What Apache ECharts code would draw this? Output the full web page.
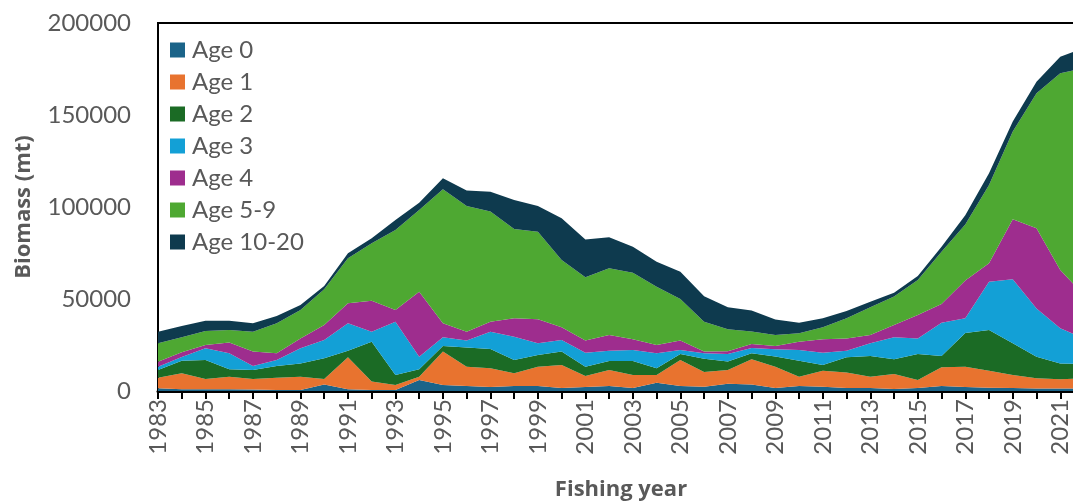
<!DOCTYPE html>
<html>
<head>
<meta charset="utf-8">
<script src="https://cdn.jsdelivr.net/npm/echarts@6/dist/echarts.min.js"></script>
<style>
  html, body { margin: 0; padding: 0; background: #fff; }
  #chart { width: 1073px; height: 501px; }
</style>
</head>
<body>
<div id="chart"></div>
<script>
// fishing years on the x axis
var years = [];
for (var y = 1983; y <= 2022; y++) years.push(String(y));

// biomass by age group (mt)
var age0 = [1500, 1000, 1000, 1000, 800, 500, 500, 3500, 1000, 500,
  500, 6000, 3300, 2700, 2200, 2700, 2700, 1600, 2200, 2700,
  1600, 4500, 2700, 2300, 4000, 3500, 1600, 2700, 2300, 1600,
  1600, 1100, 1600, 2700, 2200, 1800, 1600, 1400, 1400, 1400];
var age1 = [5700, 8600, 5500, 6800, 5700, 6700, 7300, 3000, 17300, 4600,
  2800, 1800, 18100, 10500, 10100, 6900, 10500, 12500, 6000, 8700,
  7100, 4200, 14100, 8000, 7400, 13700, 11600, 5100, 8700, 8400,
  6200, 8100, 4400, 10200, 11000, 9200, 7100, 5500, 5000, 5500];
var age2 = [4200, 6900, 10300, 4000, 4900, 6400, 7200, 11300, 3600, 21700,
  5400, 4000, 3100, 10400, 10500, 7200, 6400, 7300, 5000, 4900,
  7600, 3600, 3300, 7200, 4600, 3300, 5600, 8700, 3100, 8300,
  11200, 8000, 14100, 6100, 18300, 22200, 17200, 11700, 8600, 7800];
var age3 = [1800, 2000, 6400, 8700, 2200, 3200, 8200, 9900, 14900, 5400,
  29000, 6800, 4700, 3800, 9400, 12700, 6300, 6300, 7600, 5600,
  6000, 8200, 2200, 3000, 4100, 2900, 3900, 5800, 6700, 3600,
  6900, 12000, 8500, 18100, 8000, 26200, 34800, 26300, 19100, 13800];
var age4 = [2700, 2500, 1800, 5800, 7800, 3700, 5400, 8200, 10900, 16900,
  6300, 35400, 7600, 4800, 5500, 10000, 13100, 6900, 6600, 8500,
  5800, 4500, 5100, 900, 1500, 2100, 1800, 4500, 7300, 6700,
  4500, 6700, 12700, 10200, 20500, 10000, 32600, 43500, 31700, 23500];
var age5to9 = [10000, 8200, 7600, 6900, 10800, 16300, 15400, 19400, 24400, 31200,
  43500, 44400, 72800, 68300, 59800, 48500, 47600, 36600, 34400, 36300,
  36200, 31700, 22600, 16300, 12000, 6900, 5900, 4600, 6500, 10900,
  15100, 15400, 19000, 28400, 30500, 42600, 47700, 73400, 106900, 123500];
var age10to20 = [6300, 6100, 5600, 5000, 4600, 4000, 2700, 1800, 2700, 2700,
  5400, 3900, 6000, 8400, 10800, 15800, 13900, 22700, 20600, 16800,
  14100, 13600, 14800, 13800, 11900, 11400, 8400, 5700, 4900, 4000,
  3000, 2100, 2200, 2700, 5000, 6300, 5400, 6300, 9000, 11000];

var yTicks = [0, 50000, 100000, 150000, 200000];

var groups = [
  { name: 'Age 0', data: age0, color: '#1b6489' },
  { name: 'Age 1', data: age1, color: '#e8732f' },
  { name: 'Age 2', data: age2, color: '#1b6b25' },
  { name: 'Age 3', data: age3, color: '#13a0d6' },
  { name: 'Age 4', data: age4, color: '#9e2d8e' },
  { name: 'Age 5-9', data: age5to9, color: '#4ea832' },
  { name: 'Age 10-20', data: age10to20, color: '#0e3a4e' }
];

var font = 'Lato, "Open Sans", sans-serif';
var titleFont = '"Open Sans", Lato, sans-serif';
var gray = '#595959';

var chart = echarts.init(document.getElementById('chart'), null, { renderer: 'canvas' });

var series = groups.map(function (g) {
  return {
    name: g.name,
    type: 'line',
    stack: 'biomass',
    data: g.data,
    showSymbol: false,
    symbol: 'none',
    smooth: false,
    color: g.color,
    itemStyle: { color: g.color },
    lineStyle: { width: 0, color: g.color },
    areaStyle: { color: g.color, opacity: 1 },
    emphasis: { disabled: true },
    silent: true
  };
});

chart.setOption({
  animation: false,
  backgroundColor: '#fff',
  textStyle: { fontFamily: font },
  grid: {
    show: true,
    left: 158, top: 23, right: -11, bottom: 110,
    outerBoundsMode: 'none',
    containLabel: false,
    borderColor: '#000', borderWidth: 2,
    backgroundColor: 'transparent'
  },
  legend: {
    orient: 'vertical',
    left: 170, top: 38,
    padding: 0,
    icon: 'rect',
    itemWidth: 15, itemHeight: 15,
    itemGap: 8,
    data: groups.map(function (g) { return g.name; }),
    textStyle: { fontFamily: font, fontSize: 24, color: gray, lineHeight: 24, padding: [0, 0, 0, 2] }
  },
  xAxis: {
    type: 'category',
    data: years,
    boundaryGap: false,
    name: 'Fishing year',
    nameLocation: 'middle',
    nameGap: 88,
    nameTextStyle: { fontFamily: titleFont, fontSize: 22, fontWeight: 'bold', color: gray },
    axisLine: { show: true, lineStyle: { color: '#000', width: 3 } },
    axisTick: { show: true, interval: 0, inside: false, length: 8, lineStyle: { color: '#000', width: 2 } },
    axisLabel: { interval: 1, rotate: 90, margin: 8, fontFamily: font, fontSize: 24, color: gray },
    splitLine: { show: false }
  },
  yAxis: {
    type: 'value',
    min: yTicks[0],
    max: yTicks[yTicks.length - 1],
    interval: yTicks[1] - yTicks[0],
    name: 'Biomass (mt)',
    nameLocation: 'middle',
    nameGap: 123,
    nameTextStyle: { fontFamily: titleFont, fontSize: 22, fontWeight: 'bold', color: gray },
    axisLine: { show: true, lineStyle: { color: '#000', width: 2 } },
    axisTick: { show: false },
    axisLabel: {
      margin: 27, fontFamily: font, fontSize: 24, color: gray,
      formatter: function (v) { return String(v); }
    },
    splitLine: { show: false }
  },
  series: series
});
</script>
</body>
</html>
